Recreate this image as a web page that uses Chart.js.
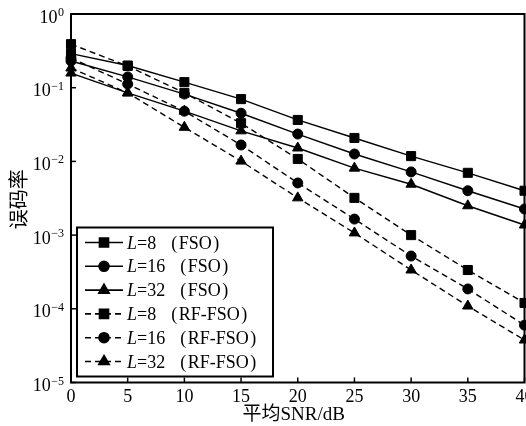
<!DOCTYPE html>
<html>
<head>
<meta charset="utf-8">
<style>
  html, body { margin: 0; padding: 0; background: #fff; }
  #wrap { width: 526px; height: 426px; }
</style>
</head>
<body>
<div id="wrap"><canvas id="c" width="526" height="426"></canvas></div>
<script src="https://cdn.jsdelivr.net/npm/chart.js@4/dist/chart.umd.min.js"></script>
<script>
// Average SNR (dB) on the x axis
const snr = [0, 5, 10, 15, 20, 25, 30, 35, 40];

// Bit error rate, FSO-only link
const berFsoL8  = [0.29, 0.20, 0.119, 0.070, 0.0365, 0.0208, 0.0118, 0.0070, 0.0040];
const berFsoL16 = [0.23, 0.14, 0.082, 0.045, 0.0235, 0.0126, 0.0072, 0.0040, 0.00226];
const berFsoL32 = [0.158, 0.085, 0.048, 0.026, 0.0152, 0.0081, 0.0049, 0.0025, 0.00137];

// Bit error rate, hybrid RF-FSO link
const berRfL8  = [0.39, 0.197, 0.085, 0.033, 0.0108, 0.0032, 0.0010, 0.000336, 0.00012];
const berRfL16 = [0.253, 0.112, 0.048, 0.0167, 0.0051, 0.00165, 0.00052, 0.000186, 0.00006];
const berRfL32 = [0.185, 0.085, 0.029, 0.0101, 0.0032, 0.00107, 0.000336, 0.000109, 0.0000377];

// Axis ticks
const xTicks = [0, 5, 10, 15, 20, 25, 30, 35, 40];
const yExponents = [0, -1, -2, -3, -4, -5];

// Legend text parts
const orders = ['8', '16', '32', '8', '16', '32'];
const links = ['FSO', 'FSO', 'FSO', 'RF-FSO', 'RF-FSO', 'RF-FSO'];

const xTitle = '平均SNR/dB';
const yTitle = '误码率';

const SERIF = '"Liberation Serif", "Times New Roman", "Noto Sans CJK SC", serif';

const styles = [
  { style: 'rect', radius: 6.4, dash: [] },
  { style: 'circle', radius: 5, dash: [] },
  { style: 'triangle', radius: 6, dash: [] },
  { style: 'rect', radius: 6.4, dash: [6, 4] },
  { style: 'circle', radius: 5, dash: [6, 4] },
  { style: 'triangle', radius: 6, dash: [6, 4] }
];
const series = [berFsoL8, berFsoL16, berFsoL32, berRfL8, berRfL16, berRfL32];

const datasets = series.map((vals, i) => ({
  label: 'L=' + orders[i] + ' (' + links[i] + ')',
  order: orders[i],
  link: links[i],
  data: snr.map((s, k) => ({ x: s, y: vals[k] })),
  borderColor: '#000',
  backgroundColor: '#000',
  borderWidth: 1.4,
  borderDash: styles[i].dash,
  pointStyle: styles[i].style,
  pointRadius: styles[i].radius,
  pointBorderWidth: 1,
  pointBackgroundColor: '#000',
  pointBorderColor: '#000',
  tension: 0,
  clip: false
}));

function line(ctx, x1, y1, x2, y2) {
  ctx.beginPath();
  ctx.moveTo(x1, y1);
  ctx.lineTo(x2, y2);
  ctx.stroke();
}

const axesPlugin = {
  id: 'axesFrame',
  afterDatasetsDraw(chart) {
    const { ctx, chartArea: a, scales: { x, y } } = chart;
    ctx.save();
    ctx.strokeStyle = '#000';
    ctx.fillStyle = '#000';
    ctx.setLineDash([]);

    // frame
    ctx.lineWidth = 2;
    ctx.strokeRect(a.left, a.top, a.right - a.left, a.bottom - a.top);

    // inward tick marks
    ctx.lineWidth = 1.5;
    xTicks.forEach(v => {
      const px = x.getPixelForValue(v);
      line(ctx, px, a.bottom, px, a.bottom - 5);
    });
    yExponents.forEach(e => {
      const py = y.getPixelForValue(Math.pow(10, e));
      line(ctx, a.left, py, a.left + 5, py);
    });

    // x tick labels
    ctx.font = '18px ' + SERIF;
    ctx.textAlign = 'center';
    ctx.textBaseline = 'alphabetic';
    xTicks.forEach(v => {
      ctx.fillText(String(v), x.getPixelForValue(v), a.bottom + 19);
    });

    // y tick labels as 10 with a raised exponent
    yExponents.forEach(e => {
      const py = y.getPixelForValue(Math.pow(10, e));
      const exp = e === 0 ? '0' : '\u2212' + String(-e);
      ctx.font = '12px ' + SERIF;
      ctx.textAlign = 'right';
      const ew = ctx.measureText(exp).width;
      const right = a.left - 7;
      ctx.fillText(exp, right, py + 2);
      ctx.font = '18px ' + SERIF;
      ctx.fillText('10', right - ew - 0.5, py + 8.5);
    });

    // axis titles
    ctx.font = '19px ' + SERIF;
    ctx.textAlign = 'center';
    ctx.fillText(xTitle, (a.left + a.right) / 2 - 4, a.bottom + 37);

    ctx.save();
    ctx.translate(26, (a.top + a.bottom) / 2 + 1);
    ctx.rotate(-Math.PI / 2);
    ctx.font = '20px "Noto Sans CJK SC", sans-serif';
    ctx.textAlign = 'center';
    ctx.textBaseline = 'alphabetic';
    ctx.fillText(yTitle, 0, 0);
    ctx.restore();

    ctx.restore();
  },
  afterDraw(chart) {
    const { ctx, chartArea: a } = chart;
    const boxL = a.left + 6, boxR = a.left + 202;
    const boxB = a.bottom - 6, boxT = boxB - 149;
    ctx.save();
    ctx.fillStyle = '#fff';
    ctx.fillRect(boxL, boxT, boxR - boxL, boxB - boxT);
    ctx.strokeStyle = '#000';
    ctx.lineWidth = 2;
    ctx.setLineDash([]);
    ctx.strokeRect(boxL, boxT, boxR - boxL, boxB - boxT);

    chart.data.datasets.forEach((ds, i) => {
      const cy = boxT + 15 + i * 23.8;
      const x0 = boxL + 8, x1 = boxL + 46, xm = boxL + 27;
      ctx.strokeStyle = '#000';
      ctx.fillStyle = '#000';
      ctx.lineWidth = 1.6;
      ctx.setLineDash(ds.borderDash);
      line(ctx, x0, cy, x1, cy);
      ctx.setLineDash([]);
      Chart.helpers.drawPoint(ctx, {
        pointStyle: ds.pointStyle, rotation: 0,
        radius: ds.pointRadius, borderWidth: 1
      }, xm, cy);

      // label: italic L, upright remainder, wide gap before the bracket
      let tx = boxL + 50;
      const ty = cy + 6;
      ctx.textAlign = 'left';
      ctx.textBaseline = 'alphabetic';
      ctx.font = 'italic 18px ' + SERIF;
      ctx.fillText('L', tx, ty);
      tx += ctx.measureText('L').width;
      ctx.font = '18px ' + SERIF;
      const eq = '=' + ds.order;
      ctx.fillText(eq, tx, ty);
      tx += ctx.measureText(eq).width + 15;
      const br = '(\u200A' + ds.link + '\u200A)';
      ctx.fillText(br, tx, ty);
    });
    ctx.restore();
  }
};

new Chart(document.getElementById('c'), {
  type: 'line',
  data: { datasets },
  options: {
    responsive: false,
    animation: false,
    devicePixelRatio: 1,
    layout: { autoPadding: false, padding: { left: 71, top: 14, right: 1.5, bottom: 43.5 } },
    plugins: { legend: { display: false }, tooltip: { enabled: false } },
    scales: {
      x: { type: 'linear', min: 0, max: 40, display: false },
      y: { type: 'logarithmic', min: 1e-5, max: 1, display: false }
    }
  },
  plugins: [axesPlugin]
});
</script>
</body>
</html>
